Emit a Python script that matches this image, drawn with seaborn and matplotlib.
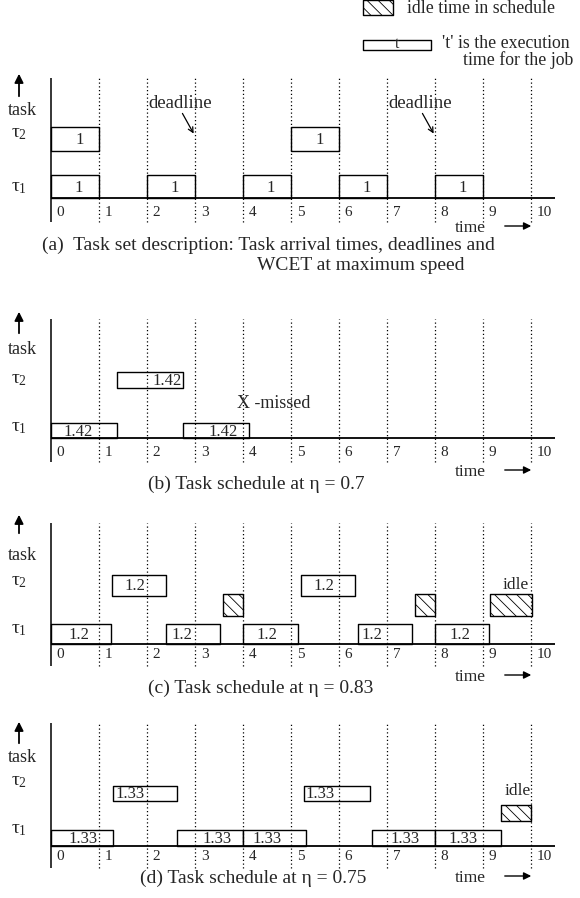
import matplotlib
matplotlib.use('Agg')
import matplotlib.pyplot as plt
import seaborn as sns

sns.set_theme(style='white')
plt.rcParams['font.family'] = ['Liberation Serif', 'DejaVu Serif']
plt.rcParams['mathtext.fontset'] = 'custom'
plt.rcParams['mathtext.rm'] = 'Liberation Serif'
plt.rcParams['mathtext.it'] = 'Liberation Serif'
plt.rcParams['hatch.linewidth'] = 0.6

# ---- data -------------------------------------------------------------
time_ticks = [0, 1, 2, 3, 4, 5, 6, 7, 8, 9, 10]

# (a) task set at full speed
a_tau1_start = [0, 2, 4, 6, 8]
a_tau1_end = [1, 3, 5, 7, 9]
a_tau1_text = ['1', '1', '1', '1', '1']
a_tau2_start = [0, 5]
a_tau2_end = [1, 6]
a_tau2_text = ['1', '1']
a_deadlines = [3, 8]

# (b) eta = 0.7
b_tau1_start = [0, 2.75]
b_tau1_end = [1.375, 4.125]
b_tau1_text = ['1.42', '1.42']
b_tau2_start = [1.375]
b_tau2_end = [2.75]
b_tau2_text = ['1.42']

# (c) eta = 0.83
c_tau1_start = [0, 2.4, 4.0, 6.4, 8.0]
c_tau1_end = [1.25, 3.52, 5.15, 7.52, 9.13]
c_tau1_text = ['1.2', '1.2', '1.2', '1.2', '1.2']
c_tau2_start = [1.27, 5.2]
c_tau2_end = [2.4, 6.33]
c_tau2_text = ['1.2', '1.2']
c_idle_start = [3.58, 7.58, 9.15]
c_idle_end = [4.0, 8.0, 10.02]

# (d) eta = 0.75
d_tau1_start = [0, 2.63, 4.0, 6.69, 8.0]
d_tau1_end = [1.29, 4.0, 5.31, 8.0, 9.38]
d_tau1_text = ['1.33', '1.33', '1.33', '1.33', '1.33']
d_tau2_start = [1.29, 5.27]
d_tau2_end = [2.63, 6.65]
d_tau2_text = ['1.33', '1.33']
d_idle_start = [9.38]
d_idle_end = [10.0]

captions = [
    ['(a)  Task set description: Task arrival times, deadlines and', 'WCET at maximum speed'],
    ['(b) Task schedule at η = 0.7'],
    ['(c) Task schedule at η = 0.83'],
    ['(d) Task schedule at η = 0.75'],
]

# ---- layout (y in pixels above each panel's baseline) ------------------
W, H = 580, 898
X0, PX = 51, 48.0          # pixel of t=0, pixels per time unit
XLIM = (-X0 / PX, (W - X0) / PX)
ARROW_X = (19 - X0) / PX
HATCH = '\\\\\\'

panels = [
    dict(base=198, t1=(0, 23), t2=(47, 71), idle=None, span=(-24, 120),
         arrow=(99, 127), task_y=88, tau_y=(11, 65), tick_y=-14, time_y=-30,
         cap_x=[42, 257], cap_y=[-47, -67]),
    dict(base=438, t1=(0, 15), t2=(50, 66), idle=None, span=(-24, 119),
         arrow=(102, 129), task_y=88, tau_y=(11, 58), tick_y=-15, time_y=-34,
         cap_x=[148], cap_y=[-46]),
    dict(base=644, t1=(0, 20), t2=(48, 69), idle=(28, 50), span=(-22, 121),
         arrow=(108, 132), task_y=89, tau_y=(14, 62), tick_y=-11, time_y=-33,
         cap_x=[148], cap_y=[-44]),
    dict(base=846, t1=(0, 16), t2=(45, 60), idle=(25, 41), span=(-22, 123),
         arrow=(100, 127), task_y=89, tau_y=(16, 64), tick_y=-11, time_y=-32,
         cap_x=[140], cap_y=[-32]),
]

fig = plt.figure(figsize=(W / 100, H / 100), dpi=100)


def make_axes(base):
    ax = fig.add_axes([0, 0, 1, 1])
    ax.set_xlim(*XLIM)
    ax.set_ylim(base - H, base)
    ax.axis('off')
    ax.patch.set_alpha(0)
    return ax


def boxes(ax, starts, ends, rows, texts=None, text_x=None, hatch=None):
    spans = [(s, e - s) for s, e in zip(starts, ends)]
    ax.broken_barh(spans, (rows[0], rows[1] - rows[0]), facecolors='white',
                   edgecolors='black', linewidth=1.0, hatch=hatch)
    if texts:
        for i, (s, e) in enumerate(zip(starts, ends)):
            x = text_x[i] if text_x else (s + e) / 2
            ax.text(x, (rows[0] + rows[1]) / 2 - 1, texts[i], ha='center',
                    va='center', fontsize=12)


def frame(ax, lay):
    lo, hi = lay['span']
    ax.vlines(time_ticks[1:], lo, hi, colors='black', linestyles=(0, (1, 2)), lw=0.9)
    ax.vlines(0, lo, hi, colors='black', lw=1.1)
    ax.hlines(0, 0, (555 - X0) / PX, colors='black', lw=1.3)
    for t in time_ticks:
        ax.text(t + 0.12, lay['tick_y'], str(t), ha='left', va='center', fontsize=11)
    a0, a1 = lay['arrow']
    ax.annotate('', xy=(ARROW_X, a1), xytext=(ARROW_X, a0),
                arrowprops=dict(arrowstyle='-|>', lw=1.3, color='black', mutation_scale=13))
    ax.text(ARROW_X + 0.08, lay['task_y'], 'task', ha='center', va='center', fontsize=13)
    ax.text(ARROW_X, lay['tau_y'][0], r'$\tau_1$', ha='center', va='center', fontsize=14)
    ax.text(ARROW_X, lay['tau_y'][1], r'$\tau_2$', ha='center', va='center', fontsize=14)
    ty = lay['time_y']
    ax.text((470 - X0) / PX, ty, 'time', ha='center', va='center', fontsize=12.5)
    ax.annotate('', xy=((534 - X0) / PX, ty + 2), xytext=((502 - X0) / PX, ty + 2),
                arrowprops=dict(arrowstyle='-|>', lw=1.0, color='black', mutation_scale=11))
    for line, cx, cy in zip(lay['cap'], lay['cap_x'], lay['cap_y']):
        ax.text((cx - X0) / PX, cy, line, ha='left', va='center', fontsize=14)


# ---- panel (a) ---------------------------------------------------------
lay = panels[0]
lay['cap'] = captions[0]
ax = make_axes(lay['base'])
frame(ax, lay)
boxes(ax, a_tau1_start, a_tau1_end, lay['t1'], a_tau1_text,
      [s + 0.57 for s in a_tau1_start])
boxes(ax, a_tau2_start, a_tau2_end, lay['t2'], a_tau2_text,
      [s + 0.59 for s in a_tau2_start])
for d in a_deadlines:
    ax.text(d - 0.98, 95, 'deadline', ha='left', va='center', fontsize=13.5)
    ax.annotate('', xy=(d, 62), xytext=(d - 0.29, 87),
                arrowprops=dict(arrowstyle='->', lw=0.9, color='black', mutation_scale=9))

# legend
ax.broken_barh([((363 - X0) / PX, 30 / PX)], (183, 15), facecolors='white',
               edgecolors='black', linewidth=1.0, hatch=HATCH)
ax.text((407 - X0) / PX, 190, 'idle time in schedule', ha='left', va='center', fontsize=12.8)
ax.broken_barh([((363 - X0) / PX, 68 / PX)], (148, 10), facecolors='white',
               edgecolors='black', linewidth=1.0)
ax.text((397 - X0) / PX, 154, 't', ha='center', va='center', fontsize=11.5)
ax.text((442 - X0) / PX, 155, "'t' is the execution", ha='left', va='center', fontsize=12.8)
ax.text((463 - X0) / PX, 138, 'time for the job', ha='left', va='center', fontsize=12.8)

# ---- panel (b) ---------------------------------------------------------
lay = panels[1]
lay['cap'] = captions[1]
ax = make_axes(lay['base'])
frame(ax, lay)
boxes(ax, b_tau1_start, b_tau1_end, lay['t1'], b_tau1_text, [0.56, 3.58])
boxes(ax, b_tau2_start, b_tau2_end, lay['t2'], b_tau2_text, [2.42])
ax.text((237 - X0) / PX, 35, 'X -missed', ha='left', va='center', fontsize=13)

# ---- panel (c) ---------------------------------------------------------
lay = panels[2]
lay['cap'] = captions[2]
ax = make_axes(lay['base'])
frame(ax, lay)
boxes(ax, c_tau1_start, c_tau1_end, lay['t1'], c_tau1_text,
      [0.58, 2.72, 4.5, 6.69, 8.52])
boxes(ax, c_tau2_start, c_tau2_end, lay['t2'], c_tau2_text, [1.75, 5.69])
boxes(ax, c_idle_start, c_idle_end, lay['idle'], hatch=HATCH)
ax.text(9.69, 59, 'idle', ha='center', va='center', fontsize=12.5)

# ---- panel (d) ---------------------------------------------------------
lay = panels[3]
lay['cap'] = captions[3]
ax = make_axes(lay['base'])
frame(ax, lay)
boxes(ax, d_tau1_start, d_tau1_end, lay['t1'], d_tau1_text,
      [0.67, 3.45, 4.5, 7.38, 8.58])
boxes(ax, d_tau2_start, d_tau2_end, lay['t2'], d_tau2_text, [1.65, 5.6])
boxes(ax, d_idle_start, d_idle_end, lay['idle'], hatch=HATCH)
ax.text(9.73, 55, 'idle', ha='center', va='center', fontsize=12.5)

fig.savefig('out.png', dpi=100)
